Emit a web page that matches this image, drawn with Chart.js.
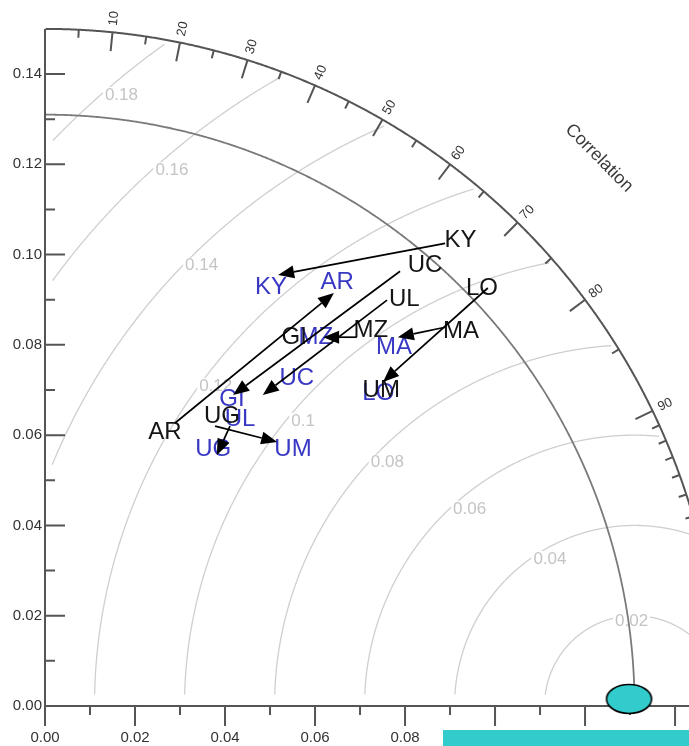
<!DOCTYPE html>
<html>
<head>
<meta charset="utf-8">
<title>Taylor diagram</title>
<script src="https://cdn.jsdelivr.net/npm/chart.js@4/dist/chart.umd.min.js"></script>
<style>
  html, body { margin: 0; padding: 0; background: #ffffff; overflow: hidden; }
  canvas { display: block; }
</style>
</head>
<body>
<canvas id="taylor" width="689" height="746"></canvas>
<script>
// ---- data -------------------------------------------------------------
const models = ["KY", "UC", "UL", "LO", "MA", "MZ", "GI", "AR", "UG", "UM"];

// first case (black labels): standard deviation and correlation
const stdA  = [0.1386, 0.1293, 0.1206, 0.1343, 0.1244, 0.1104, 0.0989, 0.0665, 0.0755, 0.1025];
const corrA = [0.666,  0.653,  0.662,  0.723,  0.743,  0.656,  0.560,  0.401,  0.521,  0.729];

// second case (blue labels)
const stdB  = [0.1057, 0.0919, 0.0771, 0.1016, 0.1111, 0.1017, 0.0799, 0.1143, 0.0683, 0.0794];
const corrB = [0.475,  0.609,  0.562,  0.729,  0.698,  0.592,  0.520,  0.568,  0.547,  0.694];

// observed (reference) standard deviation
const refStd = 0.131;

// centred RMS difference contours
const rmsLevels = [0.02, 0.04, 0.06, 0.08, 0.10, 0.12, 0.14, 0.16, 0.18];

// correlation axis ticks (labels are r x 100)
const corrMajor = [0.1, 0.2, 0.3, 0.4, 0.5, 0.6, 0.7, 0.8, 0.9];
const corrMinor = [0.05, 0.15, 0.25, 0.35, 0.45, 0.55, 0.65, 0.75, 0.85,
                   0.91, 0.92, 0.93, 0.94, 0.95, 0.96, 0.97, 0.98, 0.99];

// standard deviation axis ticks
const stdMajor = [0.00, 0.02, 0.04, 0.06, 0.08, 0.10, 0.12, 0.14];
const stdMinor = [0.01, 0.03, 0.05, 0.07, 0.09, 0.11, 0.13];

// arrows, as (x, y) std-dev components of tail and head
const arrowFrom = [[0.0889, 0.1025], [0.0289, 0.0627], [0.0789, 0.0963], [0.0760, 0.0899],
                   [0.0984, 0.0926], [0.0889, 0.0839], [0.0693, 0.0817], [0.0411, 0.0620],
                   [0.0378, 0.0620]];
const arrowTo   = [[0.0518, 0.0955], [0.0642, 0.0915], [0.0418, 0.0689], [0.0484, 0.0689],
                   [0.0751, 0.0718], [0.0784, 0.0817], [0.0618, 0.0817], [0.0382, 0.0556],
                   [0.0516, 0.0585]];

// ---- layout / style ---------------------------------------------------
const OUTER_R = 0.15;                       // correlation arc radius
const X_MAX = 0.1431, Y_MAX = 0.1564;       // visible std-dev window
const rmsLabelAngle = [92, 120, 130, 135.5, 139.4, 142.7, 134.6, 130.9, 130.1];
const FONT = '"Liberation Sans", Arial, Helvetica, sans-serif';
const BLACK_TXT = '#151515';
const BLUE_TXT = '#3838c4';
const TEAL = '#33cccc';
const AXIS_CLR = '#555555';

const toXY = (s, c) => ({ x: s * c, y: s * Math.sqrt(1 - c * c) });

// reference marker: outlined teal ellipse
const refMarker = (() => {
  const cv = document.createElement('canvas');
  cv.width = 64; cv.height = 64;
  const g = cv.getContext('2d');
  g.beginPath();
  g.ellipse(32 - 5.5, 32 - 7, 22.5, 14.5, 0, 0, Math.PI * 2);
  g.fillStyle = TEAL;
  g.fill();
  g.lineWidth = 1.6;
  g.strokeStyle = '#000';
  g.stroke();
  return cv;
})();

const taylorFrame = {
  id: 'taylorFrame',
  beforeDatasetsDraw(chart) {
    const ctx = chart.ctx;
    const xs = chart.scales.x, ys = chart.scales.y;
    const P = (x, y) => [xs.getPixelForValue(x), ys.getPixelForValue(y)];
    ctx.save();

    // RMS difference arcs
    ctx.strokeStyle = '#cfcfcf';
    ctx.lineWidth = 1.3;
    rmsLevels.forEach(d => {
      let drawing = false;
      ctx.beginPath();
      for (let a = 0; a <= Math.PI + 1e-9; a += 0.002) {
        const X = refStd + d * Math.cos(a), Y = d * Math.sin(a);
        const ok = Y >= 0.0025 && X >= 0.0015 && X * X + Y * Y <= 0.149 * 0.149;
        if (ok) {
          const [px, py] = P(X, Y);
          if (!drawing) { ctx.moveTo(px, py); drawing = true; } else ctx.lineTo(px, py);
        } else drawing = false;
      }
      ctx.stroke();
    });

    // RMS labels with a white backing
    ctx.font = '17px ' + FONT;
    ctx.textAlign = 'center';
    ctx.textBaseline = 'middle';
    rmsLevels.forEach((d, i) => {
      const a = rmsLabelAngle[i] * Math.PI / 180;
      const r = d - Math.min(0.003, d * 0.06);
      const [px, py] = P(refStd + r * Math.cos(a), r * Math.sin(a));
      const txt = String(Math.round(d * 100) / 100);
      const w = ctx.measureText(txt).width;
      ctx.fillStyle = '#ffffff';
      ctx.fillRect(px - w / 2 - 2, py - 8, w + 4, 16);
      ctx.fillStyle = '#c4c4c4';
      ctx.fillText(txt, px, py);
    });

    // reference standard deviation arc
    ctx.strokeStyle = '#7a7a7a';
    ctx.lineWidth = 1.8;
    ctx.beginPath();
    for (let a = 0; a <= Math.PI / 2 + 1e-9; a += 0.002) {
      const [px, py] = P(refStd * Math.cos(a), refStd * Math.sin(a));
      if (a === 0) ctx.moveTo(px, py); else ctx.lineTo(px, py);
    }
    ctx.stroke();

    // outer correlation arc
    ctx.strokeStyle = AXIS_CLR;
    ctx.lineWidth = 2;
    ctx.beginPath();
    for (let a = 0; a <= Math.PI / 2 + 1e-9; a += 0.002) {
      const [px, py] = P(OUTER_R * Math.cos(a), OUTER_R * Math.sin(a));
      if (a === 0) ctx.moveTo(px, py); else ctx.lineTo(px, py);
    }
    ctx.stroke();

    // std-dev axes
    const [ox, oy] = P(0, 0);
    const [, topY] = P(0, OUTER_R);
    ctx.beginPath();
    ctx.moveTo(ox, topY);
    ctx.lineTo(ox, oy);
    ctx.lineTo(chart.width + 2, oy);
    ctx.stroke();

    // y ticks (inward)
    ctx.lineWidth = 2;
    ctx.beginPath();
    stdMajor.forEach(v => { const [, py] = P(0, v); if (v > 0) { ctx.moveTo(ox, py); ctx.lineTo(ox + 20, py); } });
    stdMinor.forEach(v => { const [, py] = P(0, v); ctx.moveTo(ox, py); ctx.lineTo(ox + 10, py); });
    // x ticks (outward)
    stdMajor.forEach(v => { const [px] = P(v, 0); ctx.moveTo(px, oy); ctx.lineTo(px, oy + 20); });
    stdMinor.forEach(v => { const [px] = P(v, 0); ctx.moveTo(px, oy); ctx.lineTo(px, oy + 9); });
    ctx.stroke();

    // tick labels
    ctx.fillStyle = '#333333';
    ctx.font = '15px ' + FONT;
    ctx.textAlign = 'right';
    ctx.textBaseline = 'middle';
    stdMajor.forEach(v => { const [, py] = P(0, v); ctx.fillText(v.toFixed(2), ox - 3, py); });
    ctx.textAlign = 'center';
    stdMajor.forEach(v => { const [px] = P(v, 0); ctx.fillText(v.toFixed(2), px, oy + 32); });

    // correlation ticks and labels
    const tick = (r, len) => {
      const th = Math.acos(r);
      const [px, py] = P(OUTER_R * Math.cos(th), OUTER_R * Math.sin(th));
      const ux = Math.cos(th), uy = -Math.sin(th);
      ctx.moveTo(px, py);
      ctx.lineTo(px - ux * len, py - uy * len);
    };
    ctx.strokeStyle = AXIS_CLR;
    ctx.lineWidth = 2;
    ctx.beginPath();
    corrMajor.forEach(r => tick(r, 19));
    corrMinor.forEach(r => tick(r, 8));
    ctx.stroke();

    ctx.font = '13px ' + FONT;
    ctx.textAlign = 'left';
    ctx.textBaseline = 'middle';
    ctx.fillStyle = '#333333';
    corrMajor.forEach(r => {
      const th = Math.acos(r);
      const [px, py] = P(0.1515 * Math.cos(th), 0.1515 * Math.sin(th));
      ctx.save();
      ctx.translate(px, py);
      ctx.rotate(-th);
      ctx.fillText(String(Math.round(r * 100)), 0, 0);
      ctx.restore();
    });

    // axis title along the arc
    {
      const th = 44.6 * Math.PI / 180;
      const [px, py] = P(0.1729 * Math.cos(th), 0.1729 * Math.sin(th));
      ctx.save();
      ctx.translate(px, py);
      ctx.rotate(Math.PI / 2 - th);
      ctx.font = '18px ' + FONT;
      ctx.textAlign = 'center';
      ctx.fillStyle = '#3a3a3a';
      ctx.fillText('Correlation', 0, 0);
      ctx.restore();
    }
    ctx.restore();
  },
  afterDatasetsDraw(chart) {
    const ctx = chart.ctx;
    const xs = chart.scales.x, ys = chart.scales.y;
    ctx.save();

    // model labels placed at their points
    ctx.font = '24px ' + FONT;
    ctx.textAlign = 'center';
    ctx.textBaseline = 'middle';
    [[0, BLUE_TXT], [1, BLACK_TXT]].forEach(([di, col]) => {
      const meta = chart.getDatasetMeta(di);
      ctx.fillStyle = col;
      meta.data.forEach((el, i) => ctx.fillText(models[i], el.x, el.y + 1));
    });

    // arrows
    ctx.strokeStyle = '#000';
    ctx.fillStyle = '#000';
    ctx.lineWidth = 1.7;
    arrowFrom.forEach((f, i) => {
      const t = arrowTo[i];
      const x0 = xs.getPixelForValue(f[0]), y0 = ys.getPixelForValue(f[1]);
      const x1 = xs.getPixelForValue(t[0]), y1 = ys.getPixelForValue(t[1]);
      const L = Math.hypot(x1 - x0, y1 - y0);
      const ux = (x1 - x0) / L, uy = (y1 - y0) / L;
      const hl = Math.min(16, L * 0.6), hw = 6.5;
      const bx = x1 - ux * hl, by = y1 - uy * hl;
      ctx.beginPath();
      ctx.moveTo(x0, y0);
      ctx.lineTo(bx, by);
      ctx.stroke();
      ctx.beginPath();
      ctx.moveTo(x1, y1);
      ctx.lineTo(bx - uy * hw, by + ux * hw);
      ctx.lineTo(bx + uy * hw, by - ux * hw);
      ctx.closePath();
      ctx.fill();
    });
    ctx.restore();
  },
  afterDraw(chart) {
    // teal band along the lower edge
    const ctx = chart.ctx;
    ctx.save();
    ctx.fillStyle = TEAL;
    ctx.fillRect(443, 730, chart.width - 443, chart.height - 730);
    ctx.restore();
  }
};

new Chart(document.getElementById('taylor').getContext('2d'), {
  type: 'scatter',
  data: {
    datasets: [
      { label: 'case B', data: models.map((m, i) => toXY(stdB[i], corrB[i])), pointRadius: 0, pointHoverRadius: 0 },
      { label: 'case A', data: models.map((m, i) => toXY(stdA[i], corrA[i])), pointRadius: 0, pointHoverRadius: 0 },
      { label: 'observed', data: [{ x: refStd, y: 0 }], pointStyle: refMarker, pointRadius: 10, pointHoverRadius: 10, clip: false }
    ]
  },
  options: {
    responsive: false,
    animation: false,
    devicePixelRatio: 1,
    events: [],
    layout: { autoPadding: false, padding: { left: 45, right: 0, top: 0, bottom: 40 } },
    scales: {
      x: { type: 'linear', min: 0, max: X_MAX, display: false },
      y: { type: 'linear', min: 0, max: Y_MAX, display: false }
    },
    plugins: { legend: { display: false }, tooltip: { enabled: false } }
  },
  plugins: [taylorFrame]
});
</script>
</body>
</html>
